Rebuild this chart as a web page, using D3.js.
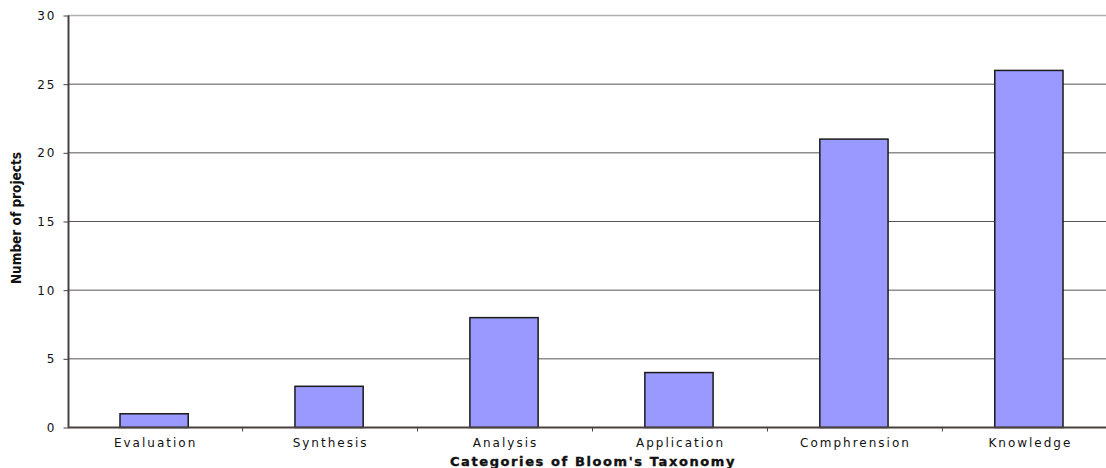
<!DOCTYPE html>
<html lang="en">
<head>
    <meta charset="utf-8">
    <title>Bloom's Taxonomy</title>
    <script src="https://cdnjs.cloudflare.com/ajax/libs/d3/7.8.5/d3.min.js"></script>
    <style>
        body { margin: 0; background: #fff; }
        svg { display: block; }
        .lbl { font-family: "DejaVu Sans", Verdana, sans-serif; font-size: 12px; letter-spacing: 2px; fill: #111; }
    </style>
</head>
<body>
<svg id="chart" width="1106" height="468"></svg>
<script>
    // data
    var categories = ["Evaluation", "Synthesis", "Analysis", "Application", "Comphrension", "Knowledge"];
    var projects = [1, 3, 8, 4, 21, 26];
    var yTicks = [0, 5, 10, 15, 20, 25, 30];

    var svg = d3.select("#chart");
    var plotLeft = 68, plotRight = 1116, plotTop = 15, plotBottom = 427;

    var x = d3.scaleBand()
        .domain(categories)
        .range([plotLeft, plotRight])
        .paddingInner(0.61)
        .paddingOuter(0.3);
    var y = d3.scaleLinear().domain([0, 30]).range([plotBottom, plotTop]);
    var step = x.step();

    // gridlines
    svg.append("g")
        .selectAll("line")
        .data(yTicks.filter(d => d > 0))
        .enter()
        .append("line")
        .attr("x1", plotLeft).attr("x2", 1106)
        .attr("y1", d => y(d) + 0.5).attr("y2", d => y(d) + 0.5)
        .style("stroke", d => d == 30 ? "#b0b0b0" : "#555")
        .style("stroke-width", d => d == 30 ? "1.5px" : "1px");

    // bars
    svg.append("g")
        .selectAll("rect")
        .data(categories)
        .enter()
        .append("rect")
        .attr("x", d => x(d) - 0.5)
        .attr("y", (d, i) => y(projects[i]) + 0.5)
        .attr("width", x.bandwidth())
        .attr("height", (d, i) => y(0) - y(projects[i]))
        .style("fill", "#9999ff")
        .style("stroke", "#1a1a1a")
        .style("stroke-width", "1.5px");

    // y axis
    var yAxis = d3.axisLeft(y).tickValues(yTicks).tickSize(5).tickPadding(9);
    var gy = svg.append("g").attr("transform", "translate(" + (plotLeft + 0.5) + ",0.5)").call(yAxis);
    gy.select(".domain").attr("d", "M0," + plotTop + "V" + plotBottom).style("stroke", "#4a4040").style("stroke-width", "2px");
    gy.selectAll(".tick line").style("stroke", "#4a4040");
    gy.selectAll(".tick text").attr("class", "lbl").style("font-size", "12px").attr("dx", "2px");

    // x axis: ticks sit between categories
    var gx = svg.append("g").attr("transform", "translate(0," + (plotBottom + 0.5) + ")");
    gx.append("line")
        .attr("x1", plotLeft).attr("x2", 1106)
        .style("stroke", "#4a4040").style("stroke-width", "2px");
    gx.selectAll("line.tk")
        .data(categories.slice(1))
        .enter()
        .append("line")
        .attr("class", "tk")
        .attr("x1", d => x(d) - step * x.paddingInner() / 2 + 0.5)
        .attr("x2", d => x(d) - step * x.paddingInner() / 2 + 0.5)
        .attr("y1", 0).attr("y2", 4)
        .style("stroke", "#4a4040");
    gx.selectAll("text")
        .data(categories)
        .enter()
        .append("text")
        .attr("class", "lbl")
        .attr("x", d => x(d) + x.bandwidth() / 2 + 1)
        .attr("y", 19)
        .attr("text-anchor", "middle")
        .text(d => d);

    // axis titles
    svg.append("text")
        .attr("x", 593).attr("y", 466)
        .attr("text-anchor", "middle")
        .style("font-family", "DejaVu Sans, Verdana, sans-serif")
        .style("font-size", "13px")
        .style("font-weight", "bold")
        .style("letter-spacing", "1.6px")
        .style("fill", "#111")
        .style("stroke", "#111")
        .style("stroke-width", "0.4px")
        .text("Categories of Bloom's Taxonomy");

    svg.append("text")
        .attr("transform", "translate(21,218) rotate(-90)")
        .attr("text-anchor", "middle")
        .style("font-family", "DejaVu Sans Condensed, sans-serif")
        .style("font-size", "13.5px")
        .style("font-weight", "bold")
        .style("fill", "#111")
        .text("Number of projects");
</script>
</body>
</html>
